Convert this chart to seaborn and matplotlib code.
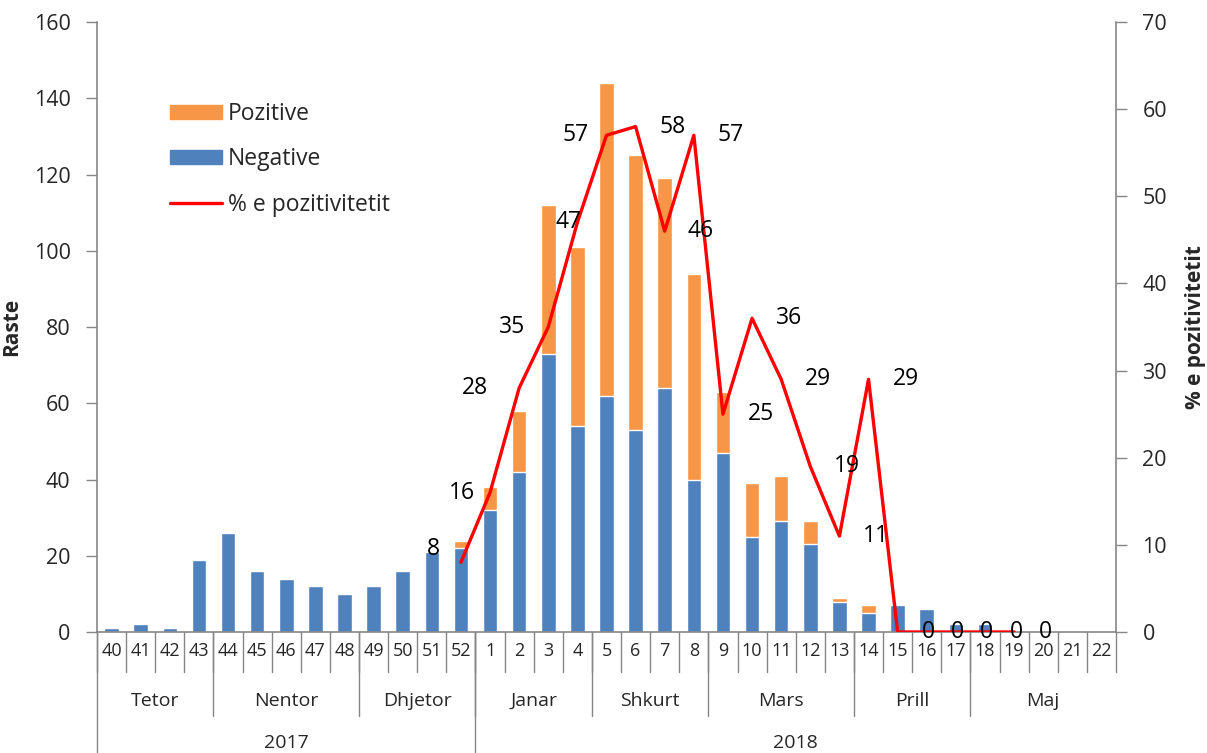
import numpy as np
import pandas as pd
import seaborn as sns
import matplotlib.pyplot as plt
from matplotlib.patches import Patch
from matplotlib.lines import Line2D

# Data
weeks = [40, 41, 42, 43, 44, 45, 46, 47, 48, 49, 50, 51, 52,
         1, 2, 3, 4, 5, 6, 7, 8, 9, 10, 11, 12, 13, 14, 15, 16, 17, 18, 19, 20, 21, 22]
negative = [1, 2, 1, 19, 26, 16, 14, 12, 10, 12, 16, 21, 22,
            32, 42, 73, 54, 62, 53, 64, 40, 47, 25, 29, 23, 8, 5, 7, 6, 2, 2, 0, 0, 0, 0]
total = [1, 2, 1, 19, 26, 16, 14, 12, 10, 12, 16, 21, 24,
         38, 58, 112, 101, 144, 125, 119, 94, 63, 39, 41, 29, 9, 7, 7, 6, 2, 2, 0, 0, 0, 0]
pct_weeks = [52, 1, 2, 3, 4, 5, 6, 7, 8, 9, 10, 11, 12, 13, 14, 15, 16, 17, 18, 19]
pct_values = [8, 16, 28, 35, 47, 57, 58, 46, 57, 25, 36, 29, 19, 11, 29, 0, 0, 0, 0, 0]
month_names = ['Tetor', 'Nentor', 'Dhjetor', 'Janar', 'Shkurt', 'Mars', 'Prill', 'Maj']
month_sizes = [4, 5, 4, 4, 4, 5, 4, 5]
year_names = ['2017', '2018']
year_sizes = [13, 22]

# label offsets in pixels (left of point for the rising part, right afterwards)
label_dx = [-28, -28, -44, -36, -9, -31, 37, 36, 37, 38, 37, 37, 37, 37, 37, 31, 31, 31, 31, 31]
label_dy = [13, 0, 0, 0, 0, 0, 0, 0, 0, 0, 0, 0, 0, 0, 0, 0, 0, 0, 0, 0]

BLUE = '#4F81BD'
ORANGE = '#F79646'
RED = '#FF0000'
GRAY = '#868686'

sns.set_style('white')
plt.rcParams['font.family'] = ['Open Sans', 'DejaVu Sans']

df = pd.DataFrame({'week': [str(w) for w in weeks], 'negative': negative, 'total': total})
order = [str(w) for w in weeks]
df_line = pd.DataFrame({'pos': [order.index(str(w)) for w in pct_weeks], 'pct': pct_values})

fig = plt.figure(figsize=(12.07, 7.53), dpi=100)
ax = fig.add_axes([97 / 1207, 1 - 632 / 753, (1116 - 97) / 1207, 610 / 753])

sns.barplot(data=df, x='week', y='total', order=order, color=ORANGE, saturation=1,
            width=0.5, ax=ax, errorbar=None)
sns.barplot(data=df, x='week', y='negative', order=order, color=BLUE, saturation=1,
            width=0.5, ax=ax, errorbar=None)

ax.set_xlim(-0.5, len(weeks) - 0.5)
ax.set_ylim(0, 160)
ax.set_yticks(range(0, 161, 20))
ax.set_xticks(range(len(weeks)))
ax.set_xticklabels([])
ax.tick_params(axis='x', length=0)
ax.tick_params(axis='y', length=8, width=1, color=GRAY, direction='out', pad=11, labelsize=15.5, left=True)
ax.set_xlabel('')
ax.set_ylabel('Raste', fontsize=15, fontweight='bold', labelpad=8)
for s in ['top', 'right']:
    ax.spines[s].set_visible(False)
for s in ['left', 'bottom']:
    ax.spines[s].set_color(GRAY)
    ax.spines[s].set_linewidth(1.2)

# secondary axis with the positivity line
ax2 = ax.twinx()
sns.lineplot(data=df_line, x='pos', y='pct', ax=ax2, color=RED, linewidth=2.4)
ax2.set_xlim(-0.5, len(weeks) - 0.5)
ax2.set_ylim(0, 70)
ax2.set_yticks(range(0, 71, 10))
ax2.set_xlabel('')
ax2.set_ylabel('% e pozitivitetit', fontsize=15, fontweight='bold', labelpad=13)
ax2.tick_params(axis='y', length=8, width=1, color=GRAY, direction='out', pad=11, labelsize=15.5, right=True)
for s in ['top', 'left', 'bottom']:
    ax2.spines[s].set_visible(False)
ax2.spines['right'].set_color(GRAY)
ax2.spines['right'].set_linewidth(1.2)

for (p, v, dx, dy) in zip(df_line['pos'], df_line['pct'], label_dx, label_dy):
    ax2.annotate(str(v), (p, v), xytext=(dx * 0.72, dy * 0.72), textcoords='offset points',
                 ha='center', va='center', fontsize=16.5, color='black')

# multi level category axis
tr = ax.get_xaxis_transform()
ah = 610.0
y_week = -19 / ah
y_week_line = -40 / ah
y_month = -69 / ah
y_month_line = -84 / ah
y_year = -111 / ah
y_bottom = -121 / ah

for i, w in enumerate(weeks):
    ax.text(i, y_week, str(w), transform=tr, ha='center', va='center', fontsize=13)
for i in range(len(weeks) + 1):
    ax.plot([i - 0.5, i - 0.5], [0, y_week_line], transform=tr, color=GRAY,
            lw=1, clip_on=False)

start = 0
for name, n in zip(month_names, month_sizes):
    ax.text(start + n / 2 - 0.5, y_month, name, transform=tr, ha='center', va='center', fontsize=14)
    if start > 0:
        ax.plot([start - 0.5, start - 0.5], [0, y_month_line], transform=tr, color=GRAY,
                lw=1, clip_on=False)
    start += n

start = 0
for name, n in zip(year_names, year_sizes):
    ax.text(start + n / 2 - 0.5, y_year, name, transform=tr, ha='center', va='center', fontsize=14)
    ax.plot([start - 0.5, start - 0.5], [0, y_bottom], transform=tr, color=GRAY,
            lw=1, clip_on=False)
    start += n

handles = [Patch(color=ORANGE, label='Pozitive'),
           Patch(color=BLUE, label='Negative'),
           Line2D([0], [0], color=RED, lw=2.4, label='% e pozitivitetit')]
fig.legend(handles=handles, loc='upper left', bbox_to_anchor=(170 / 1207, 1 - 102 / 753),
           frameon=False, fontsize=16.5, handlelength=2.27, handleheight=0.57,
           handletextpad=0.27, labelspacing=0.93, borderpad=0, borderaxespad=0)

fig.savefig('out.png', dpi=100)
